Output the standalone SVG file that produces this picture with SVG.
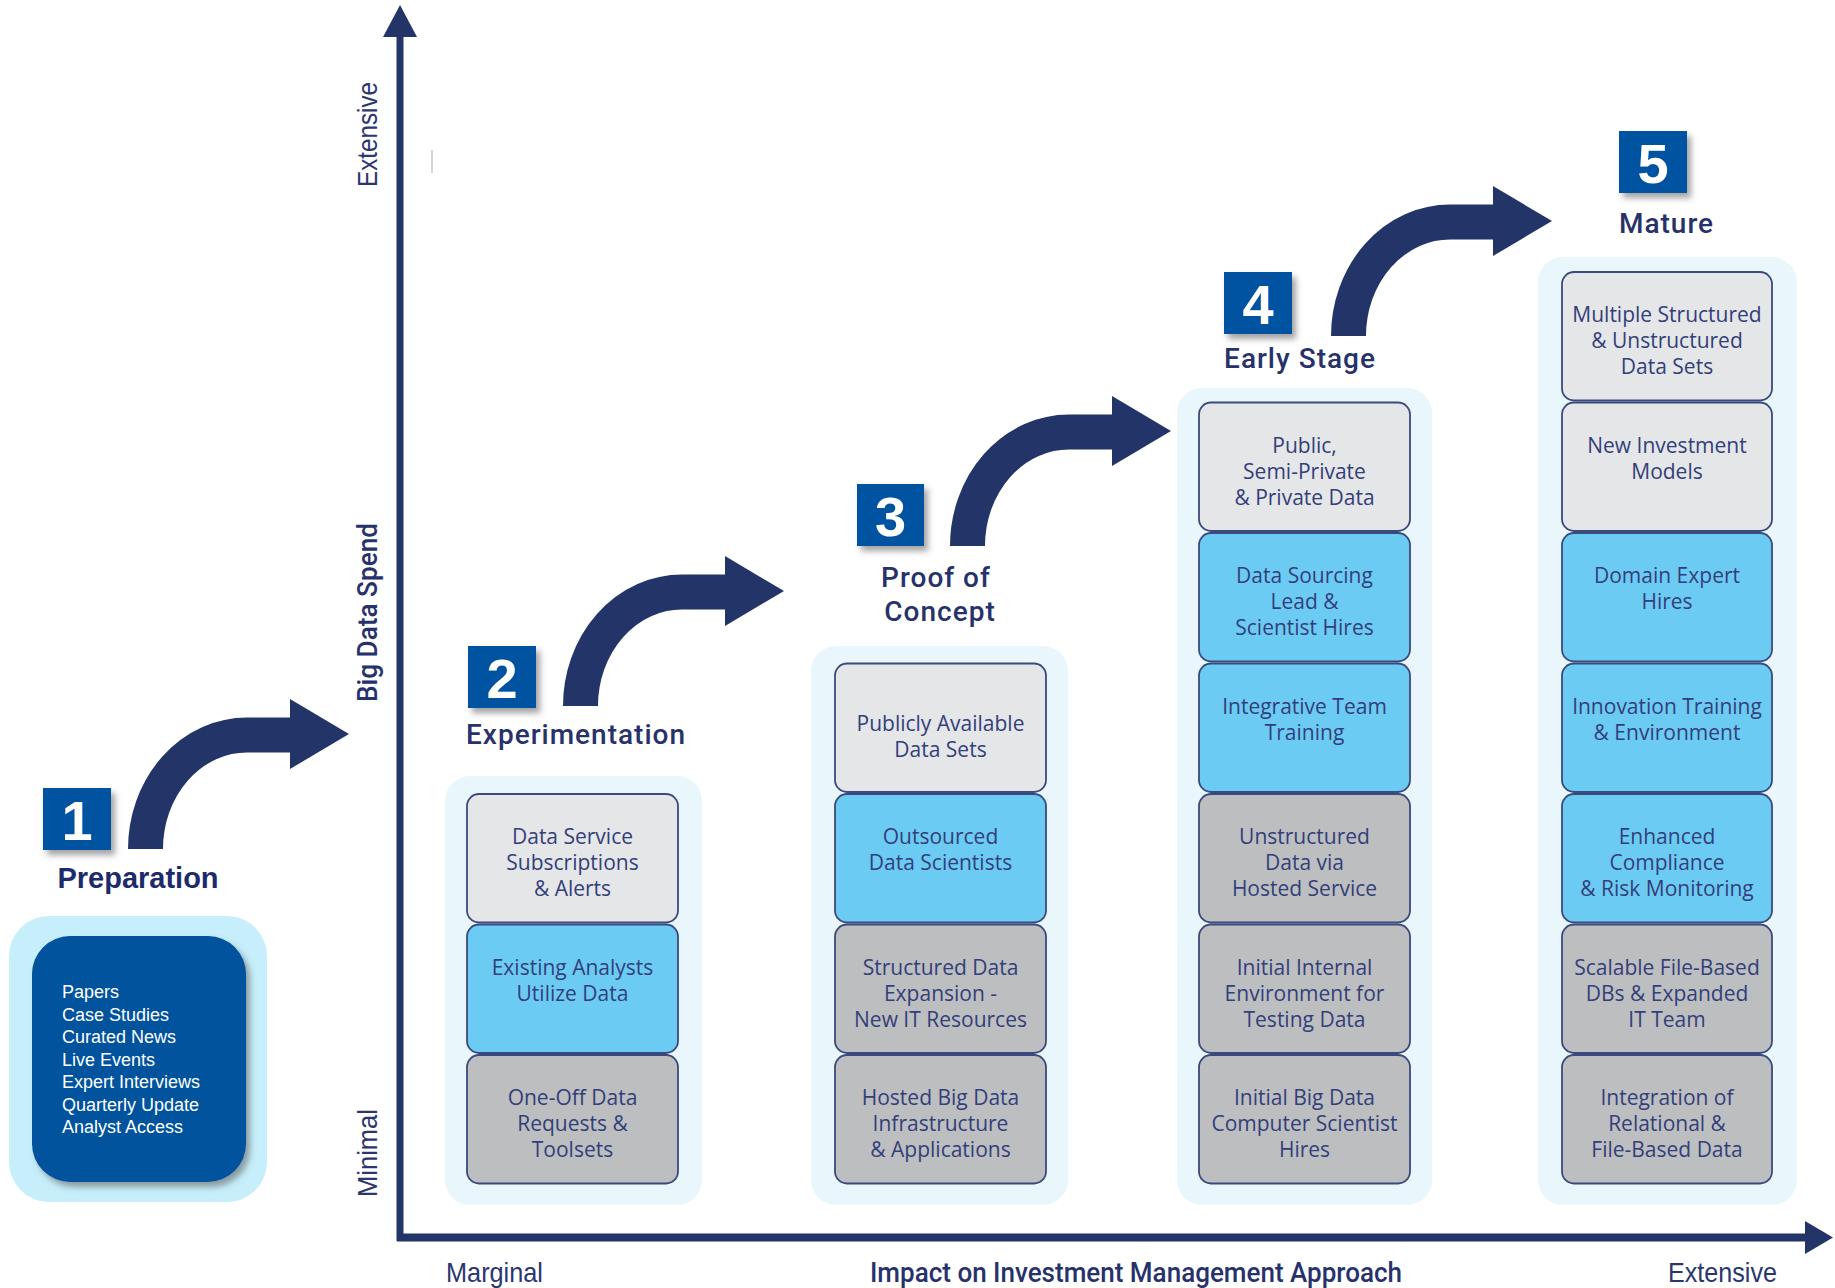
<svg xmlns="http://www.w3.org/2000/svg" xmlns:xlink="http://www.w3.org/1999/xlink" width="1835" height="1288" viewBox="0 0 1835 1288">
<style>
.num{font-family:"Liberation Sans",Arial,sans-serif;font-weight:bold;font-size:56px;fill:#ffffff;text-anchor:middle}
.title{font-family:Roboto,"Liberation Sans",sans-serif;font-weight:500;font-size:28px;letter-spacing:1px;fill:#27326a;text-anchor:middle}
.prep{font-family:"Liberation Sans",Arial,sans-serif;font-weight:bold;font-size:29px;fill:#1d2a6b;text-anchor:middle}
.ptxt{font-family:"Liberation Sans",Arial,sans-serif;font-size:18px;fill:#ffffff}
.t{font-family:"Open Sans","Liberation Sans",sans-serif;font-size:21px;fill:#333f7a;text-anchor:middle}
.ax{font-family:"Liberation Sans",Arial,sans-serif;font-size:28px;fill:#2b3670}
.axb{font-family:Roboto,"Liberation Sans",sans-serif;font-size:28px;fill:#27326c;font-weight:500}
.col{fill:#e9f6fc}
.lg{fill:#e5e6e8;stroke:#3b4a7d;stroke-width:1.8}
.bl{fill:#6ccbf3;stroke:#3b4a7d;stroke-width:1.8}
.gy{fill:#bdbec0;stroke:#3b4a7d;stroke-width:1.8}
.nb{fill:#0353a0}
</style>
<defs>
<filter id="sh" x="-20%" y="-20%" width="150%" height="150%">
<feDropShadow dx="4" dy="5" stdDeviation="3" flood-color="#555" flood-opacity="0.55"/>
</filter>
<g id="curveArrow">
<path d="M145.5 849 A101.5 114 0 0 1 247 735 H295" fill="none" stroke="#233469" stroke-width="35"/>
<polygon points="290,699 349,734 290,769" fill="#233469"/>
</g>
</defs>
<rect width="1835" height="1288" fill="#ffffff"/>

<g id="axes">
<line x1="400" y1="30" x2="400" y2="1241" stroke="#233469" stroke-width="7"/>
<polygon points="400,5 383,37 417,37" fill="#233469"/>
<line x1="397" y1="1237.5" x2="1810" y2="1237.5" stroke="#233469" stroke-width="8"/>
<polygon points="1833,1237.5 1805,1221 1805,1254" fill="#233469"/>
<line x1="432" y1="150" x2="432" y2="173" stroke="#d4d4d4" stroke-width="2"/>
<text class="ax" transform="translate(377,134.5) rotate(-90)" text-anchor="middle" textLength="105" lengthAdjust="spacingAndGlyphs">Extensive</text>
<text class="axb" transform="translate(377,612.5) rotate(-90)" text-anchor="middle" textLength="179" lengthAdjust="spacingAndGlyphs">Big Data Spend</text>
<text class="ax" transform="translate(377,1153) rotate(-90)" text-anchor="middle" textLength="88" lengthAdjust="spacingAndGlyphs">Minimal</text>
<text class="ax" x="446" y="1282" textLength="97" lengthAdjust="spacingAndGlyphs">Marginal</text>
<text class="axb" x="870" y="1282" textLength="532" lengthAdjust="spacingAndGlyphs">Impact on Investment Management Approach</text>
<text class="ax" x="1668" y="1282" textLength="109" lengthAdjust="spacingAndGlyphs">Extensive</text>
</g>

<g id="connectors">
<use xlink:href="#curveArrow"/>
<use xlink:href="#curveArrow" transform="translate(435,-143)"/>
<use xlink:href="#curveArrow" transform="translate(822,-303)"/>
<use xlink:href="#curveArrow" transform="translate(1203,-513)"/>
</g>

<g id="stage1">
<rect x="43" y="788" width="68" height="62" class="nb" filter="url(#sh)"/>
<text class="num" x="77" y="840">1</text>
<text class="prep" x="138" y="888">Preparation</text>
<rect x="9" y="916" width="258" height="286" rx="40" fill="#c6effb"/>
<rect x="32" y="936" width="214" height="246" rx="38" fill="#03529c" filter="url(#sh)"/>
<text class="ptxt" x="62" y="998">Papers</text>
<text class="ptxt" x="62" y="1020.5">Case Studies</text>
<text class="ptxt" x="62" y="1043">Curated News</text>
<text class="ptxt" x="62" y="1065.5">Live Events</text>
<text class="ptxt" x="62" y="1088">Expert Interviews</text>
<text class="ptxt" x="62" y="1110.5">Quarterly Update</text>
<text class="ptxt" x="62" y="1133">Analyst Access</text>
</g>

<g id="stage2">
<rect x="468" y="646" width="68" height="62" class="nb" filter="url(#sh)"/>
<text class="num" x="502" y="698">2</text>
<text class="title" x="576" y="744">Experimentation</text>
<rect x="445" y="776" width="257" height="429" rx="25" class="col"/>
<g id="s2b1"><rect x="467" y="794" width="211" height="128.5" rx="12" class="lg"/>
<text class="t" x="572.5" y="844">Data Service</text><text class="t" x="572.5" y="870">Subscriptions</text><text class="t" x="572.5" y="896">&amp; Alerts</text></g>
<g id="s2b2"><rect x="467" y="924.5" width="211" height="128.5" rx="12" class="bl"/>
<text class="t" x="572.5" y="974.5">Existing Analysts</text><text class="t" x="572.5" y="1000.5">Utilize Data</text></g>
<g id="s2b3"><rect x="467" y="1055" width="211" height="128.5" rx="12" class="gy"/>
<text class="t" x="572.5" y="1105">One-Off Data</text><text class="t" x="572.5" y="1131">Requests &amp;</text><text class="t" x="572.5" y="1157">Toolsets</text></g>
</g>

<g id="stage3">
<rect x="857" y="484" width="67" height="62" class="nb" filter="url(#sh)"/>
<text class="num" x="890.5" y="536">3</text>
<text class="title" x="936" y="587">Proof of</text>
<text class="title" x="940" y="621">Concept</text>
<rect x="811" y="646" width="257" height="559" rx="25" class="col"/>
<g id="s3b1"><rect x="835" y="663.5" width="211" height="128.5" rx="12" class="lg"/>
<text class="t" x="940.5" y="730.5">Publicly Available</text><text class="t" x="940.5" y="756.5">Data Sets</text></g>
<g id="s3b2"><rect x="835" y="794" width="211" height="128.5" rx="12" class="bl"/>
<text class="t" x="940.5" y="844">Outsourced</text><text class="t" x="940.5" y="870">Data Scientists</text></g>
<g id="s3b3"><rect x="835" y="924.5" width="211" height="128.5" rx="12" class="gy"/>
<text class="t" x="940.5" y="974.5">Structured Data</text><text class="t" x="940.5" y="1000.5">Expansion -</text><text class="t" x="940.5" y="1026.5">New IT Resources</text></g>
<g id="s3b4"><rect x="835" y="1055" width="211" height="128.5" rx="12" class="gy"/>
<text class="t" x="940.5" y="1105">Hosted Big Data</text><text class="t" x="940.5" y="1131">Infrastructure</text><text class="t" x="940.5" y="1157">&amp; Applications</text></g>
</g>

<g id="stage4">
<rect x="1224" y="272" width="68" height="62" class="nb" filter="url(#sh)"/>
<text class="num" x="1258" y="324">4</text>
<text class="title" x="1300" y="368">Early Stage</text>
<rect x="1177" y="388" width="255" height="817" rx="25" class="col"/>
<g id="s4b1"><rect x="1199" y="402.5" width="211" height="128.5" rx="12" class="lg"/>
<text class="t" x="1304.5" y="452.5">Public,</text><text class="t" x="1304.5" y="478.5">Semi-Private</text><text class="t" x="1304.5" y="504.5">&amp; Private Data</text></g>
<g id="s4b2"><rect x="1199" y="533" width="211" height="128.5" rx="12" class="bl"/>
<text class="t" x="1304.5" y="583">Data Sourcing</text><text class="t" x="1304.5" y="609">Lead &amp;</text><text class="t" x="1304.5" y="635">Scientist Hires</text></g>
<g id="s4b3"><rect x="1199" y="663.5" width="211" height="128.5" rx="12" class="bl"/>
<text class="t" x="1304.5" y="713.5">Integrative Team</text><text class="t" x="1304.5" y="739.5">Training</text></g>
<g id="s4b4"><rect x="1199" y="794" width="211" height="128.5" rx="12" class="gy"/>
<text class="t" x="1304.5" y="844">Unstructured</text><text class="t" x="1304.5" y="870">Data via</text><text class="t" x="1304.5" y="896">Hosted Service</text></g>
<g id="s4b5"><rect x="1199" y="924.5" width="211" height="128.5" rx="12" class="gy"/>
<text class="t" x="1304.5" y="974.5">Initial Internal</text><text class="t" x="1304.5" y="1000.5">Environment for</text><text class="t" x="1304.5" y="1026.5">Testing Data</text></g>
<g id="s4b6"><rect x="1199" y="1055" width="211" height="128.5" rx="12" class="gy"/>
<text class="t" x="1304.5" y="1105">Initial Big Data</text><text class="t" x="1304.5" y="1131">Computer Scientist</text><text class="t" x="1304.5" y="1157">Hires</text></g>
</g>

<g id="stage5">
<rect x="1619" y="131" width="68" height="62" class="nb" filter="url(#sh)"/>
<text class="num" x="1653" y="183">5</text>
<text class="title" x="1666.5" y="233">Mature</text>
<rect x="1538" y="257" width="259" height="948" rx="25" class="col"/>
<g id="s5b1"><rect x="1562" y="272" width="210" height="128.5" rx="12" class="lg"/>
<text class="t" x="1667" y="322">Multiple Structured</text><text class="t" x="1667" y="348">&amp; Unstructured</text><text class="t" x="1667" y="374">Data Sets</text></g>
<g id="s5b2"><rect x="1562" y="402.5" width="210" height="128.5" rx="12" class="lg"/>
<text class="t" x="1667" y="452.5">New Investment</text><text class="t" x="1667" y="478.5">Models</text></g>
<g id="s5b3"><rect x="1562" y="533" width="210" height="128.5" rx="12" class="bl"/>
<text class="t" x="1667" y="583">Domain Expert</text><text class="t" x="1667" y="609">Hires</text></g>
<g id="s5b4"><rect x="1562" y="663.5" width="210" height="128.5" rx="12" class="bl"/>
<text class="t" x="1667" y="713.5">Innovation Training</text><text class="t" x="1667" y="739.5">&amp; Environment</text></g>
<g id="s5b5"><rect x="1562" y="794" width="210" height="128.5" rx="12" class="bl"/>
<text class="t" x="1667" y="844">Enhanced</text><text class="t" x="1667" y="870">Compliance</text><text class="t" x="1667" y="896">&amp; Risk Monitoring</text></g>
<g id="s5b6"><rect x="1562" y="924.5" width="210" height="128.5" rx="12" class="gy"/>
<text class="t" x="1667" y="974.5">Scalable File-Based</text><text class="t" x="1667" y="1000.5">DBs &amp; Expanded</text><text class="t" x="1667" y="1026.5">IT Team</text></g>
<g id="s5b7"><rect x="1562" y="1055" width="210" height="128.5" rx="12" class="gy"/>
<text class="t" x="1667" y="1105">Integration of</text><text class="t" x="1667" y="1131">Relational &amp;</text><text class="t" x="1667" y="1157">File-Based Data</text></g>
</g>
</svg>
